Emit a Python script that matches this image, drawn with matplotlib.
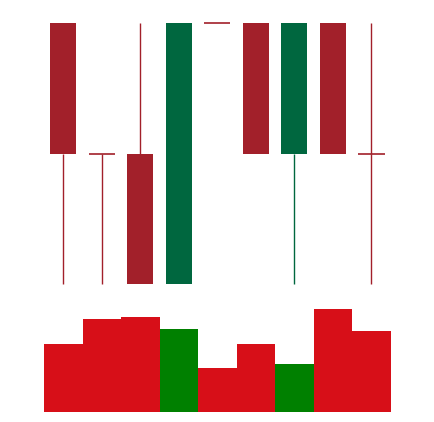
import numpy as np
import matplotlib
matplotlib.use("Agg")
import matplotlib.pyplot as plt

# OHLC data, 9 sessions
opens = [3, 2, 2, 1, 3, 3, 2, 3, 2]
highs = [3, 2, 3, 3, 3, 3, 3, 3, 3]
lows = [1, 1, 1, 1, 3, 2, 1, 2, 1]
closes = [2, 2, 1, 3, 3, 2, 3, 2, 2]
volumes = [68, 93, 95, 83, 44, 68, 48, 103, 81]

UP = "#00673f"
DOWN = "#a2202a"
VOL_UP = "#008000"
VOL_DOWN = "#d70f18"

W, H = 434, 422
fig = plt.figure(figsize=(W / 100, H / 100), dpi=100)
left = 44 / W
width = 346.7 / W
ax = fig.add_axes([left, 1 - 284 / H, width, (284 - 23) / H])
axv = fig.add_axes([left, 1 - 411.7 / H, width, 110 / H])

x = np.arange(len(opens))
up = [c > o for o, c in zip(opens, closes)]
colors = [UP if u else DOWN for u in up]
body_w = 0.68

for i in x:
    o, h, l, c = opens[i], highs[i], lows[i], closes[i]
    col = colors[i]
    lo_body, hi_body = min(o, c), max(o, c)
    # wicks only outside the body
    if l < lo_body:
        ax.vlines(i, l, lo_body, color=col, lw=1, clip_on=False, capstyle="butt")
    if h > hi_body:
        ax.vlines(i, hi_body, h, color=col, lw=1, clip_on=False, capstyle="butt")
    if o == c:
        ax.hlines(o, i - body_w / 2, i + body_w / 2, color=col, lw=1.2, clip_on=False)
    else:
        ax.bar(i, hi_body - lo_body, bottom=lo_body, width=body_w, color=col,
               clip_on=False, zorder=3)

ax.set_xlim(-0.5, len(opens) - 0.5)
ax.set_ylim(1, 3)
ax.axis("off")

vcols = [VOL_UP if u else VOL_DOWN for u in up]
axv.bar(x, volumes, width=1.0, color=vcols)
axv.set_xlim(-0.5, len(opens) - 0.5)
axv.set_ylim(0, 110)
axv.axis("off")

fig.savefig("out.png", dpi=100)
